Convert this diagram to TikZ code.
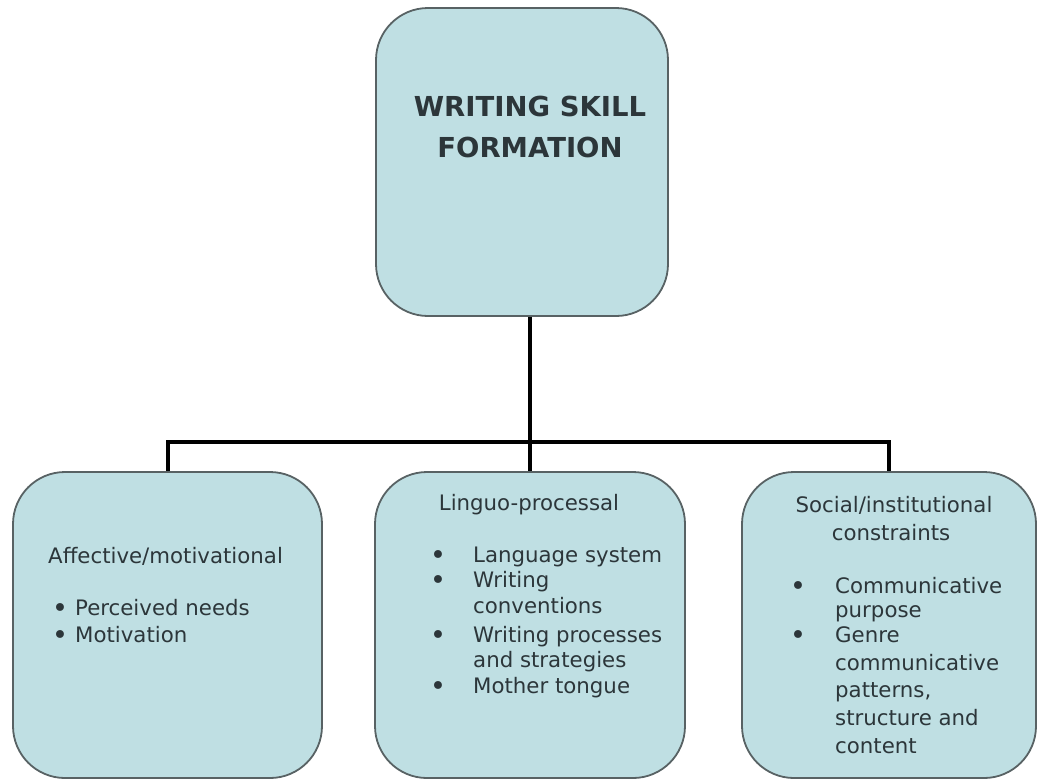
\documentclass[tikz,border=0pt]{standalone}
\usepackage{fontspec}
\setmainfont{DejaVu Sans}
\definecolor{boxfill}{RGB}{191,223,227}
\definecolor{boxline}{RGB}{88,98,100}
\definecolor{ink}{RGB}{44,54,58}
\begin{document}
\begin{tikzpicture}[x=1pt,y=-1pt,
  panel/.style={draw=boxline, line width=1.8pt, fill=boxfill,
    rounded corners=52pt, inner sep=0pt},
  link/.style={draw=black, line width=4pt},
  heading/.style={anchor=base, inner sep=0pt, text=ink,
    font=\fontsize{27.5}{32}\selectfont\bfseries},
  label/.style={anchor=base west, inner sep=0pt, text=ink,
    font=\fontsize{21.3}{25}\selectfont},
  clabel/.style={label, anchor=base},
  dot/.style={anchor=base, inner sep=0pt, text=ink,
    font=\fontsize{27}{30}\selectfont}]
\useasboundingbox (0,0) rectangle (1038,780);

% boxes
\node[panel, minimum width=292pt, minimum height=308pt] (top) at (522,162) {};
\node[panel, minimum width=309pt, minimum height=306pt] (left) at (167.5,625) {};
\node[panel, minimum width=310pt, minimum height=306pt] (mid) at (530,625) {};
\node[panel, minimum width=294pt, minimum height=306pt] (right) at (889,625) {};

% connectors
\coordinate (bus) at (530,442);
\draw[link] (top.south -| mid.north) -- (mid.north);
\draw[link] (left.north) -- (left.north |- bus) -- (right.north |- bus) -- (right.north);

% title
\node[heading] (t1) at (530,116) {WRITING SKILL};
\node[heading] (t2) at (530,157) {FORMATION};

% left box
\node[label] (a0) at (48,563) {Affective/motivational};
\node[dot] (a1b) at (60,617) {•};
\node[label] (a1) at (75,615) {Perceived needs};
\node[dot] (a2b) at (60,644) {•};
\node[label] (a2) at (75,642) {Motivation};

% middle box
\node[clabel] (b0) at (529,510) {Linguo-processal};
\node[dot] (b1b) at (438,564) {•};
\node[label] (b1) at (473,562) {Language system};
\node[dot] (b2b) at (438,589) {•};
\node[label] (b2) at (473,587) {Writing};
\node[label] (b2c) at (473,613) {conventions};
\node[dot] (b3b) at (438,644) {•};
\node[label] (b3) at (473,642) {Writing processes};
\node[label] (b3c) at (473,667) {and strategies};
\node[dot] (b4b) at (438,695) {•};
\node[label] (b4) at (473,693) {Mother tongue};

% right box
\node[clabel] (c0) at (894,512) {Social/institutional};
\node[clabel] (c0b) at (891,540) {constraints};
\node[dot] (c1b) at (798,595) {•};
\node[label] (c1) at (835,593) {Communicative};
\node[label] (c1c) at (835,617) {purpose};
\node[dot] (c2b) at (798,644) {•};
\node[label] (c2) at (835,642) {Genre};
\node[label] (c2c) at (835,670) {communicative};
\node[label] (c2d) at (835,697) {patterns,};
\node[label] (c2e) at (835,725) {structure and};
\node[label] (c2f) at (835,753) {content};
\end{tikzpicture}
\end{document}
